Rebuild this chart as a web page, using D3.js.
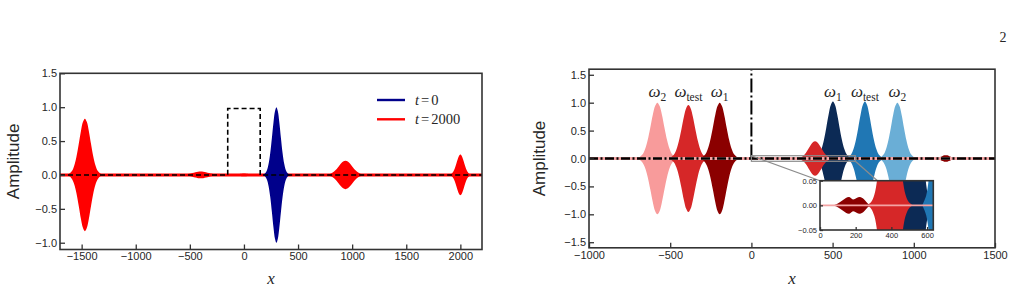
<!DOCTYPE html>
<html>
<head>
<meta charset="utf-8">
<script src="https://cdn.jsdelivr.net/npm/d3@7"></script>
<style>
body { margin: 0; background: #fff; }
svg { display: block; }
text { font-family: "Liberation Sans", Arial, sans-serif; fill: #262626; }
.math { font-family: "Liberation Serif", "DejaVu Serif", serif; }
</style>
</head>
<body>
<svg id="chart" width="1014" height="294"></svg>
<script>
"use strict"

// shape of one wave packet envelope (offset in widths, relative height)
const profileX = [-3.4, -2.8, -2.3, -1.9, -1.5, -1.1, -0.7, -0.35, 0, 0.35, 0.7, 1.1, 1.5, 1.9, 2.3, 2.8, 3.4];
const profileY = [0, 0.02, 0.07, 0.165, 0.325, 0.546, 0.783, 0.94, 1, 0.94, 0.783, 0.546, 0.325, 0.165, 0.07, 0.02, 0];

// left panel: t = 2000 packets (red) and t = 0 packet (blue)
const redCenters = [-1470, -400, 0, 938, 2000];
const redPeaks = [0.83, 0.05, 0.02, 0.21, 0.30];
const redWidths = [52, 70, 60, 62, 34];
const blueCenters = [300];
const bluePeaks = [1.0];
const blueWidths = [38];
const barrierX = [-1700, -150, -150, 150, 150, 2200];
const barrierY = [0, 0, 0.98, 0.98, 0, 0];
const leftXTicks = [-1500, -1000, -500, 0, 500, 1000, 1500, 2000];
const leftYTicks = [-1.0, -0.5, 0.0, 0.5, 1.0, 1.5];
const legendLabels = ["0", "2000"];

// right panel
const inNames = ["2", "test", "1"];
const inCenters = [-579, -388, -195];
const inPeaks = [1.0, 0.96, 1.0];
const inWidths = [40, 39, 39];
const outNames = ["1", "test", "2"];
const outCenters = [502, 699, 899];
const outPeaks = [1.02, 1.02, 1.0];
const outWidths = [37, 37, 37];
const transCenters = [392, 1197];
const transPeaks = [0.31, 0.06];
const transWidths = [38, 28];
const rightXTicks = [-1000, -500, 0, 500, 1000, 1500];
const rightYTicks = [-1.5, -1.0, -0.5, 0.0, 0.5, 1.0, 1.5];

// inset
const humpX = [75, 100, 125, 145, 164, 185, 205, 224, 245, 265, 280];
const humpY = [0, 0.004, 0.01, 0.015, 0.017, 0.012, 0.015, 0.017, 0.013, 0.005, 0];
const insetXTicks = [0, 200, 400, 600];
const insetYTicks = [-0.05, 0.0, 0.05];
const zoomBox = [0, 640, -0.05, 0.05];

const FRAME = "#333";
const svg = d3.select("#chart");
const fmtMinus = s => s.replace("-", "\u2212");

function packet(c, p, w) {
	return profileX.map((o, i) => [c + o * w, p * profileY[i]]);
}

function envelope(x, y) {
	return d3.area()
		.x(d => x(d[0]))
		.y0(d => y(-d[1]))
		.y1(d => y(d[1]))
		.curve(d3.curveCatmullRom);
}

function axes(g, x, y, xt, yt, fx, fy, size, fs) {
	var xa = g.append("g")
		.attr("transform", "translate(0," + y.range()[0] + ")")
		.call(d3.axisBottom(x).tickValues(xt).tickSize(-size).tickPadding(3).tickFormat(fx));
	var ya = g.append("g")
		.attr("transform", "translate(" + x.range()[0] + ",0)")
		.call(d3.axisLeft(y).tickValues(yt).tickSize(-size).tickPadding(3).tickFormat(fy));
	[xa, ya].forEach(a => {
		a.select(".domain").remove();
		a.selectAll("line").attr("stroke", FRAME).attr("stroke-width", 1.3);
		a.selectAll("text").attr("fill", "#262626").style("font-size", fs + "px")
			.style("font-family", "'Liberation Sans', Arial, sans-serif");
	});
	g.append("rect")
		.attr("x", x.range()[0]).attr("y", y.range()[1])
		.attr("width", x.range()[1] - x.range()[0])
		.attr("height", y.range()[0] - y.range()[1])
		.attr("fill", "none").attr("stroke", FRAME).attr("stroke-width", 1.6);
}

function clip(id, x, y) {
	svg.append("clipPath").attr("id", id).append("rect")
		.attr("x", x.range()[0]).attr("y", y.range()[1])
		.attr("width", x.range()[1] - x.range()[0])
		.attr("height", y.range()[0] - y.range()[1]);
}

// ---------------- left panel ----------------
const xL = d3.scaleLinear().domain([-1700, 2200]).range([60, 482]);
const yL = d3.scaleLinear().domain([-1.1, 1.5]).range([249.5, 73.3]);
clip("clipL", xL, yL);
const gL = svg.append("g");
const plotL = gL.append("g").attr("clip-path", "url(#clipL)");
const areaL = envelope(xL, yL);

plotL.append("line")
	.attr("x1", xL(-1700)).attr("x2", xL(2200))
	.attr("y1", yL(0)).attr("y2", yL(0))
	.attr("stroke", "#ff0000").attr("stroke-width", 3);

blueCenters.forEach((c, i) => {
	plotL.append("path").datum(packet(c, bluePeaks[i], blueWidths[i]))
		.attr("d", areaL).attr("fill", "#00008b");
});
redCenters.forEach((c, i) => {
	plotL.append("path").datum(packet(c, redPeaks[i], redWidths[i]))
		.attr("d", areaL).attr("fill", "#ff0000");
});

plotL.append("path")
	.datum(barrierX.map((v, i) => [v, barrierY[i]]))
	.attr("d", d3.line().x(d => xL(d[0])).y(d => yL(d[1])))
	.attr("fill", "none").attr("stroke", "#000")
	.attr("stroke-width", 1.6).attr("stroke-dasharray", "5,3");

axes(gL, xL, yL, leftXTicks, leftYTicks,
	d => fmtMinus(d3.format("d")(d)), d => fmtMinus(d3.format(".1f")(d)), 5, 11);

// legend
const legColors = ["#00008b", "#ff0000"];
legendLabels.forEach((lab, i) => {
	var ly = 100 + i * 19.3;
	gL.append("line").attr("x1", 377).attr("x2", 405).attr("y1", ly).attr("y2", ly)
		.attr("stroke", legColors[i]).attr("stroke-width", 2.4);
	var t = gL.append("text").attr("class", "math").attr("x", 415).attr("y", ly + 4.5)
		.style("font-size", "14.5px");
	t.append("tspan").style("font-style", "italic").text("t");
	t.append("tspan").attr("dx", 2).text("=");
	t.append("tspan").attr("dx", 2).text(lab);
});

gL.append("text").attr("transform", "translate(19," + ((73.3 + 249.5) / 2) + ") rotate(-90)")
	.attr("text-anchor", "middle").style("font-size", "17px").text("Amplitude");
gL.append("text").attr("class", "math").attr("x", (60 + 482) / 2).attr("y", 284)
	.attr("text-anchor", "middle").style("font-size", "17px").style("font-style", "italic").text("x");

// ---------------- right panel ----------------
const xR = d3.scaleLinear().domain([-1000, 1500]).range([589, 995]);
const yR = d3.scaleLinear().domain([-1.6, 1.6]).range([247.8, 69.2]);
clip("clipR", xR, yR);
const gR = svg.append("g");
const plotR = gR.append("g").attr("clip-path", "url(#clipR)");
const areaR = envelope(xR, yR);
const inColors = ["#f89b9b", "#d62728", "#8b0000"];
const outColors = ["#0c2a55", "#2077b4", "#6aaed6"];

outCenters.forEach((c, i) => {
	plotR.append("path").datum(packet(c, outPeaks[i], outWidths[i]))
		.attr("d", areaR).attr("fill", outColors[i]);
});
inCenters.forEach((c, i) => {
	plotR.append("path").datum(packet(c, inPeaks[i], inWidths[i]))
		.attr("d", areaR).attr("fill", inColors[i]);
});
const transColors = ["#d62728", "#8b0000"];
transCenters.forEach((c, i) => {
	plotR.append("path").datum(packet(c, transPeaks[i], transWidths[i]))
		.attr("d", areaR).attr("fill", transColors[i]);
});

// baseline: thin coloured traces under a black dash-dot
plotR.append("line")
	.attr("x1", xR(-1000)).attr("x2", xR(1500)).attr("y1", yR(0)).attr("y2", yR(0))
	.attr("stroke", "#f4a3a3").attr("stroke-width", 3);
plotR.append("line")
	.attr("x1", xR(-1000)).attr("x2", xR(1500)).attr("y1", yR(0)).attr("y2", yR(0))
	.attr("stroke", "#000").attr("stroke-width", 2.4).attr("stroke-dasharray", "9,2.5,2,2.5");
plotR.append("line")
	.attr("x1", xR(0)).attr("x2", xR(0)).attr("y1", yR(0)).attr("y2", yR(1.6))
	.attr("stroke", "#000").attr("stroke-width", 2).attr("stroke-dasharray", "14,3,2,3");

// labels over the peaks
function omega(g, cx, name) {
	var t = g.append("text").attr("class", "math").attr("x", xR(cx)).attr("y", yR(1.1))
		.attr("text-anchor", "middle").style("font-size", "17px");
	t.append("tspan").style("font-style", "italic").text("\u03c9");
	t.append("tspan").attr("dy", 3.5).style("font-size", "11.5px").text(name);
}
inCenters.forEach((c, i) => omega(gR, c, inNames[i]));
outCenters.forEach((c, i) => omega(gR, c, outNames[i]));

axes(gR, xR, yR, rightXTicks, rightYTicks,
	d => fmtMinus(d3.format("d")(d)), d => fmtMinus(d3.format(".1f")(d)), 5, 11);

gR.append("text").attr("transform", "translate(545," + ((69.2 + 247.8) / 2) + ") rotate(-90)")
	.attr("text-anchor", "middle").style("font-size", "17px").text("Amplitude");
gR.append("text").attr("class", "math").attr("x", (589 + 995) / 2).attr("y", 284)
	.attr("text-anchor", "middle").style("font-size", "17px").style("font-style", "italic").text("x");

// inset with its marker box
const xI = d3.scaleLinear().domain([0, 635]).range([820, 933.3]);
const yI = d3.scaleLinear().domain([-0.05, 0.05]).range([230, 180.7]);
gR.append("rect")
	.attr("x", xR(zoomBox[0])).attr("y", yR(zoomBox[3]))
	.attr("width", xR(zoomBox[1]) - xR(zoomBox[0]))
	.attr("height", yR(zoomBox[2]) - yR(zoomBox[3]))
	.attr("fill", "none").attr("stroke", "#8c8c8c").attr("stroke-width", 1.2);
gR.append("line")
	.attr("x1", xR(zoomBox[0])).attr("y1", yR(zoomBox[3]))
	.attr("x2", xI(0)).attr("y2", yI(0.05))
	.attr("stroke", "#8c8c8c").attr("stroke-width", 1.2);
gR.append("line")
	.attr("x1", xR(zoomBox[1])).attr("y1", yR(zoomBox[2]))
	.attr("x2", xI(635)).attr("y2", yI(-0.05))
	.attr("stroke", "#8c8c8c").attr("stroke-width", 1.2);

clip("clipI", xI, yI);
const gI = svg.append("g");
gI.append("rect").attr("x", 820).attr("y", 180.7).attr("width", 113.3).attr("height", 49.3).attr("fill", "#fff");
const plotI = gI.append("g").attr("clip-path", "url(#clipI)");
const areaI = envelope(xI, yI);
outCenters.forEach((c, i) => {
	plotI.append("path").datum(packet(c, outPeaks[i], outWidths[i]))
		.attr("d", areaI).attr("fill", outColors[i]);
});
plotI.append("path").datum(packet(transCenters[0], transPeaks[0], transWidths[0]))
	.attr("d", areaI).attr("fill", transColors[0]);
plotI.append("path").datum(humpX.map((v, i) => [v, humpY[i]]))
	.attr("d", areaI).attr("fill", "#8b0000");
plotI.append("line")
	.attr("x1", xI(0)).attr("x2", xI(635)).attr("y1", yI(0)).attr("y2", yI(0))
	.attr("stroke", "#f4a3a3").attr("stroke-width", 1.6);

axes(gI, xI, yI, insetXTicks, insetYTicks,
	d => d3.format("d")(d), d => fmtMinus(d3.format(".2f")(d)), 3, 7.5);

// page number
svg.append("text").attr("class", "math").attr("x", 1003).attr("y", 42)
	.attr("text-anchor", "middle").style("font-size", "14px").text("2");
</script>
</body>
</html>
